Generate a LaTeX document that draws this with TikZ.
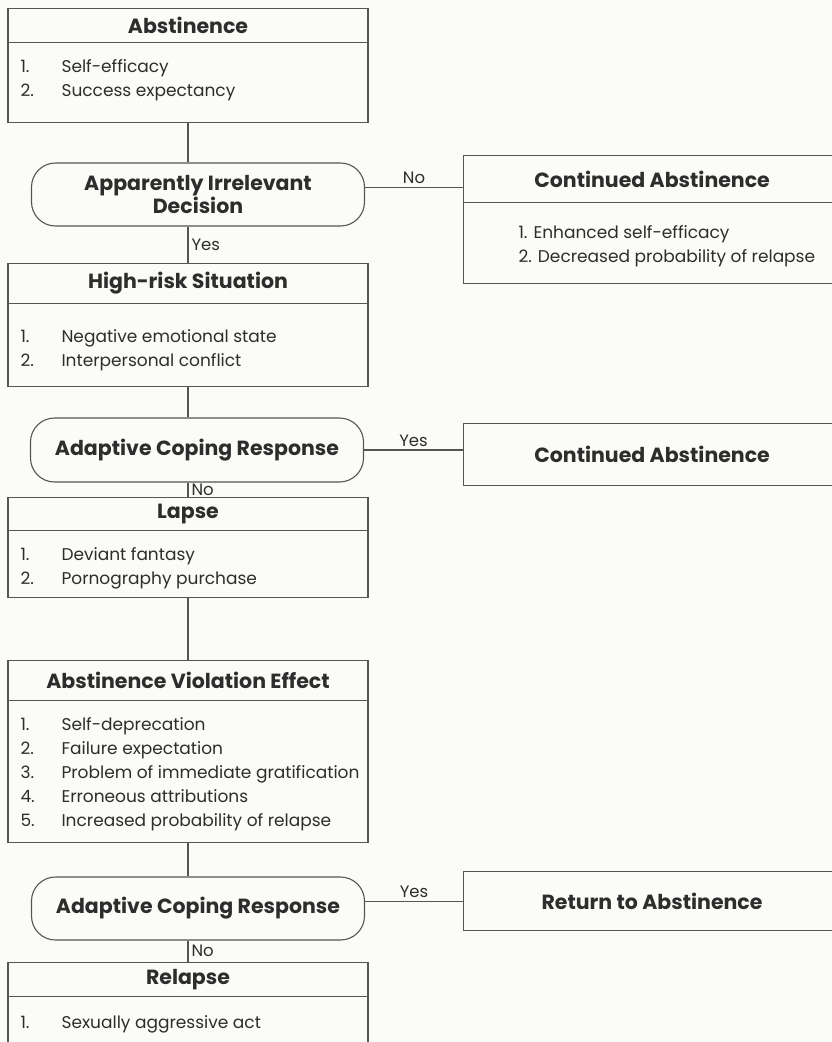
\documentclass[tikz,border=0pt]{standalone}
\usepackage{fontspec}
\setmainfont{Poppins}
\definecolor{paper}{RGB}{251,251,248}
\definecolor{ink}{RGB}{85,85,85}
\definecolor{type}{RGB}{45,45,45}
\tikzset{
	list box/.style={
		draw=ink,
		rectangle,
		minimum width=360,
		anchor=north
	},
	title box/.style={
		list box,
		text=type,
		font=\fontsize{20.5}{24}\selectfont\bfseries
	},
	item list/.style={
		anchor=base west,
		align=left,
		inner sep=0pt,
		text=type,
		font=\fontsize{17}{24}\selectfont
	},
	decision/.style={
		draw=ink,
		rectangle,
		rounded corners=24,
		minimum width=333,
		align=center,
		text=type,
		font=\fontsize{20.5}{23}\selectfont\bfseries
	},
	outcome/.style={
		draw=ink,
		rectangle,
		anchor=north west,
		minimum width=377,
		text=type,
		font=\fontsize{20.5}{24}\selectfont\bfseries
	},
	answer/.style={
		text=type,
		inner sep=3pt,
		font=\fontsize{16.5}{18}\selectfont
	},
}
\newcommand{\itemno}[1]{\makebox[41pt][l]{#1.}}

\begin{document}
\begin{tikzpicture}[x=1pt, y=-1pt, line width=1.1pt, color=ink]

\clip (0,0) rectangle (832,1042);
\fill [paper] (0,0) rectangle (832,1042);

% left column (item lists are placed by the baseline of their last line)
\node [list box, minimum height=114] (abst) at (188,8) {};
\node [title box, minimum height=34] (abst-t) at (abst.north) {Abstinence};
\node [item list] (abst-l) at (20,96)
	{\itemno1Self-efficacy\\ \itemno2Success expectancy};

\node [decision, minimum height=63] (dec1) at (198,194.5)
	{Apparently Irrelevant\\ Decision};

\node [list box, minimum height=123] (risk) at (188,263) {};
\node [title box, minimum height=40] (risk-t) at (risk.north) {High-risk Situation};
\node [item list] (risk-l) at (20,366)
	{\itemno1Negative emotional state\\ \itemno2Interpersonal conflict};

\node [decision, minimum height=64] (dec2) at (197,450) {Adaptive Coping Response};

\node [list box, minimum height=100] (lapse) at (188,497) {};
\node [title box, minimum height=33] (lapse-t) at (lapse.north) {Lapse};
\node [item list] (lapse-l) at (20,584)
	{\itemno1Deviant fantasy\\ \itemno2Pornography purchase};

\node [list box, minimum height=182] (ave) at (188,660) {};
\node [title box, minimum height=40] (ave-t) at (ave.north) {Abstinence Violation Effect};
\node [item list] (ave-l) at (20,826)
	{\itemno1Self-deprecation\\ \itemno2Failure expectation\\
	 \itemno3Problem of immediate gratification\\ \itemno4Erroneous attributions\\
	 \itemno5Increased probability of relapse};

\node [decision, minimum height=63] (dec3) at (198,908.5) {Adaptive Coping Response};

\node [list box, minimum height=100] (relapse) at (188,962) {};
\node [title box, minimum height=34] (relapse-t) at (relapse.north) {Relapse};
\node [item list] (relapse-l) at (20,1028) {\itemno1Sexually aggressive act};

% right column
\node [outcome, minimum height=128] (cont1) at (463,155) {};
\node [outcome, minimum height=47] (cont1-t) at (cont1.north west) {Continued Abstinence};
\node [item list] (cont1-l) at (518,262)
	{1. Enhanced self-efficacy\\ 2. Decreased probability of relapse};

\node [outcome, minimum height=62] (cont2) at (463,423) {Continued Abstinence};

\node [outcome, minimum height=59] (ret) at (463,871) {Return to Abstinence};

% connectors
\draw (abst.south) -- (abst.south |- dec1.north);
\draw (risk.north |- dec1.south) -- (risk.north)
	node [answer, right, midway] {Yes};
\draw (risk.south) -- (risk.south |- dec2.north);
\draw (lapse.north |- dec2.south) -- (lapse.north)
	node [answer, right, midway] {No};
\draw (lapse.south) -- (ave.north);
\draw (ave.south) -- (ave.south |- dec3.north);
\draw (relapse.north |- dec3.south) -- (relapse.north)
	node [answer, right, midway] {No};

\draw ([yshift=7]dec1.east) -- ([yshift=7]dec1.east -| cont1.west)
	node [answer, above, midway] {No};
\draw (dec2.east) -- (dec2.east -| cont2.west)
	node [answer, above, midway] {Yes};
\draw ([yshift=7]dec3.east) -- ([yshift=7]dec3.east -| ret.west)
	node [answer, above, midway] {Yes};

\end{tikzpicture}
\end{document}
